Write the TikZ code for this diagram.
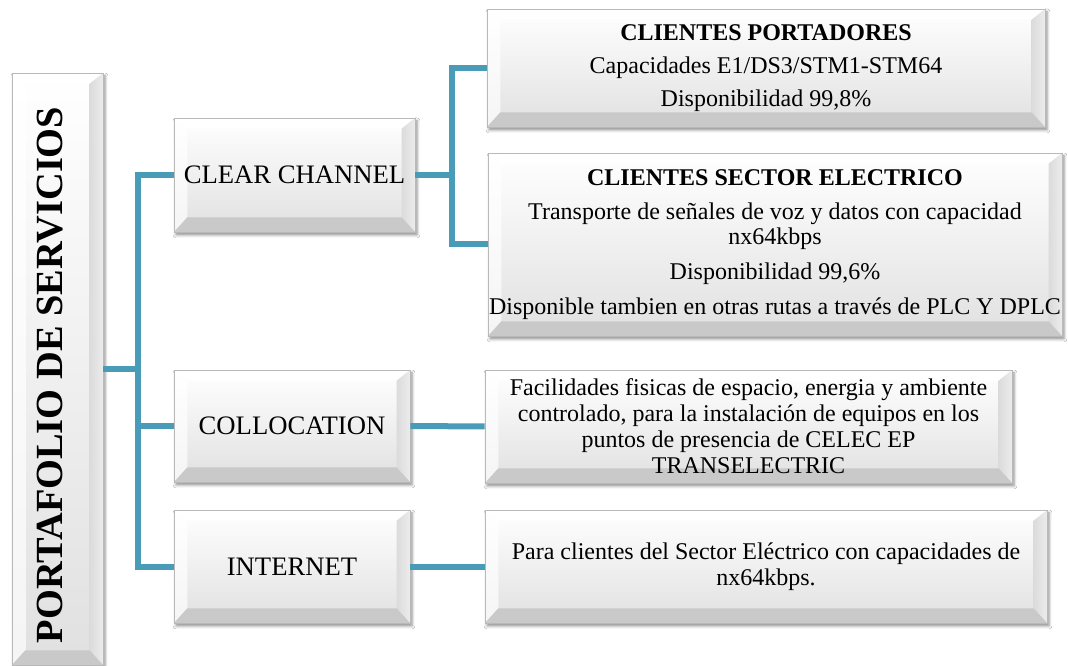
\documentclass[tikz,border=0pt]{standalone}
\usepackage{fontspec}
\setmainfont{Liberation Serif}
\usetikzlibrary{shadows.blur}
\definecolor{conncol}{RGB}{72,156,184}
\tikzset{
  bev/.style={rectangle, draw=gray!55, line width=0.6pt, inner sep=0pt, align=center,
    top color=white, bottom color=gray!24,
    blur shadow={shadow xshift=1.5pt, shadow yshift=-2.2pt, shadow blur radius=2.2pt, shadow opacity=45},
    path picture={
      \coordinate (NW) at (path picture bounding box.north west);
      \coordinate (NE) at (path picture bounding box.north east);
      \coordinate (SW) at (path picture bounding box.south west);
      \coordinate (SE) at (path picture bounding box.south east);
      \fill[white] (NW) -- (NE) -- ([shift={(-10pt,-8pt)}]NE) -- ([shift={(10pt,-8pt)}]NW) -- cycle;
      \shade[top color=white, bottom color=white!92!gray] (NW) -- ([shift={(10pt,-8pt)}]NW) -- ([shift={(10pt,11pt)}]SW) -- (SW) -- cycle;
      \shade[left color=gray!28, right color=white!85!gray] (NE) -- ([shift={(-10pt,-8pt)}]NE) -- ([shift={(-10pt,11pt)}]SE) -- (SE) -- cycle;
      \fill[gray!42] (SW) -- ([shift={(10pt,11pt)}]SW) -- ([shift={(-10pt,11pt)}]SE) -- (SE) -- cycle;
    }},
  midbox/.style={bev, font=\fontsize{20}{24}\selectfont},
  rbox/.style={bev, font=\fontsize{18}{19}\selectfont},
  conn/.style={draw=conncol, line width=4.5pt}
}
\begin{document}
\begin{tikzpicture}[x=0.75pt,y=-0.75pt]
\fill[white] (0,0) rectangle (1068,666);
\useasboundingbox (0,0) rectangle (1068,666);

% left title box
\node[bev, minimum width=68.25pt, minimum height=444pt] (port) at (57.5,369) {};
\node[rotate=90, font=\fontsize{28.8}{30}\selectfont\bfseries, inner sep=0pt] (ptxt) at (50,375) {PORTAFOLIO DE SERVICIOS};

% middle boxes
\node[midbox, minimum width=180.75pt, minimum height=85.5pt] (cc) at (294.5,175) {CLEAR CHANNEL};
\node[midbox, minimum width=177pt, minimum height=84pt] (col) at (292,426) {COLLOCATION};
\node[midbox, minimum width=177pt, minimum height=84.75pt] (int) at (292,566.5) {INTERNET};

% right boxes
\node[rbox, minimum width=418.5pt, minimum height=88.5pt] (cp) at (766,68)
  {\textbf{CLIENTES PORTADORES}\\[5.5pt]Capacidades E1/DS3/STM1-STM64\\[5.5pt]Disponibilidad 99,8\%};
\node[rbox, minimum width=430.5pt, minimum height=137.25pt] (cse) at (775,244.5)
  {\textbf{CLIENTES SECTOR ELECTRICO}\\[6.5pt]Transporte de señales de voz y datos con capacidad\\nx64kbps\\[7pt]Disponibilidad 99,6\%\\[7pt]Disponible tambien en otras rutas a través de PLC Y DPLC};
\node[rbox, font=\fontsize{18}{19.5}\selectfont, minimum width=395.25pt, minimum height=84.75pt] (fac) at (748.5,426.5)
  {Facilidades fisicas de espacio, energia y ambiente\\controlado, para la instalación de equipos en los\\puntos de presencia de CELEC EP\\TRANSELECTRIC};
\node[rbox, font=\fontsize{18}{19.5}\selectfont, minimum width=421.5pt, minimum height=84.75pt] (para) at (766,566.5)
  {Para clientes del Sector Eléctrico con capacidades de\\nx64kbps.};

% connectors
\coordinate (tb) at (138,566.5);
\coordinate (br) at (452,175);
\draw[conn] (cc.west) -| (tb) -- (int.west);
\draw[conn] (col.west) -- (col.west -| tb);
\draw[conn] (port.east) -- (port.east -| tb);
\draw[conn] (cc.east) -- (br);
\draw[conn] (cp.west) -| (br) |- (cse.west);
\draw[conn] (col.east) -- (fac.west);
\draw[conn] (int.east) -- (para.west);
\end{tikzpicture}
\end{document}
